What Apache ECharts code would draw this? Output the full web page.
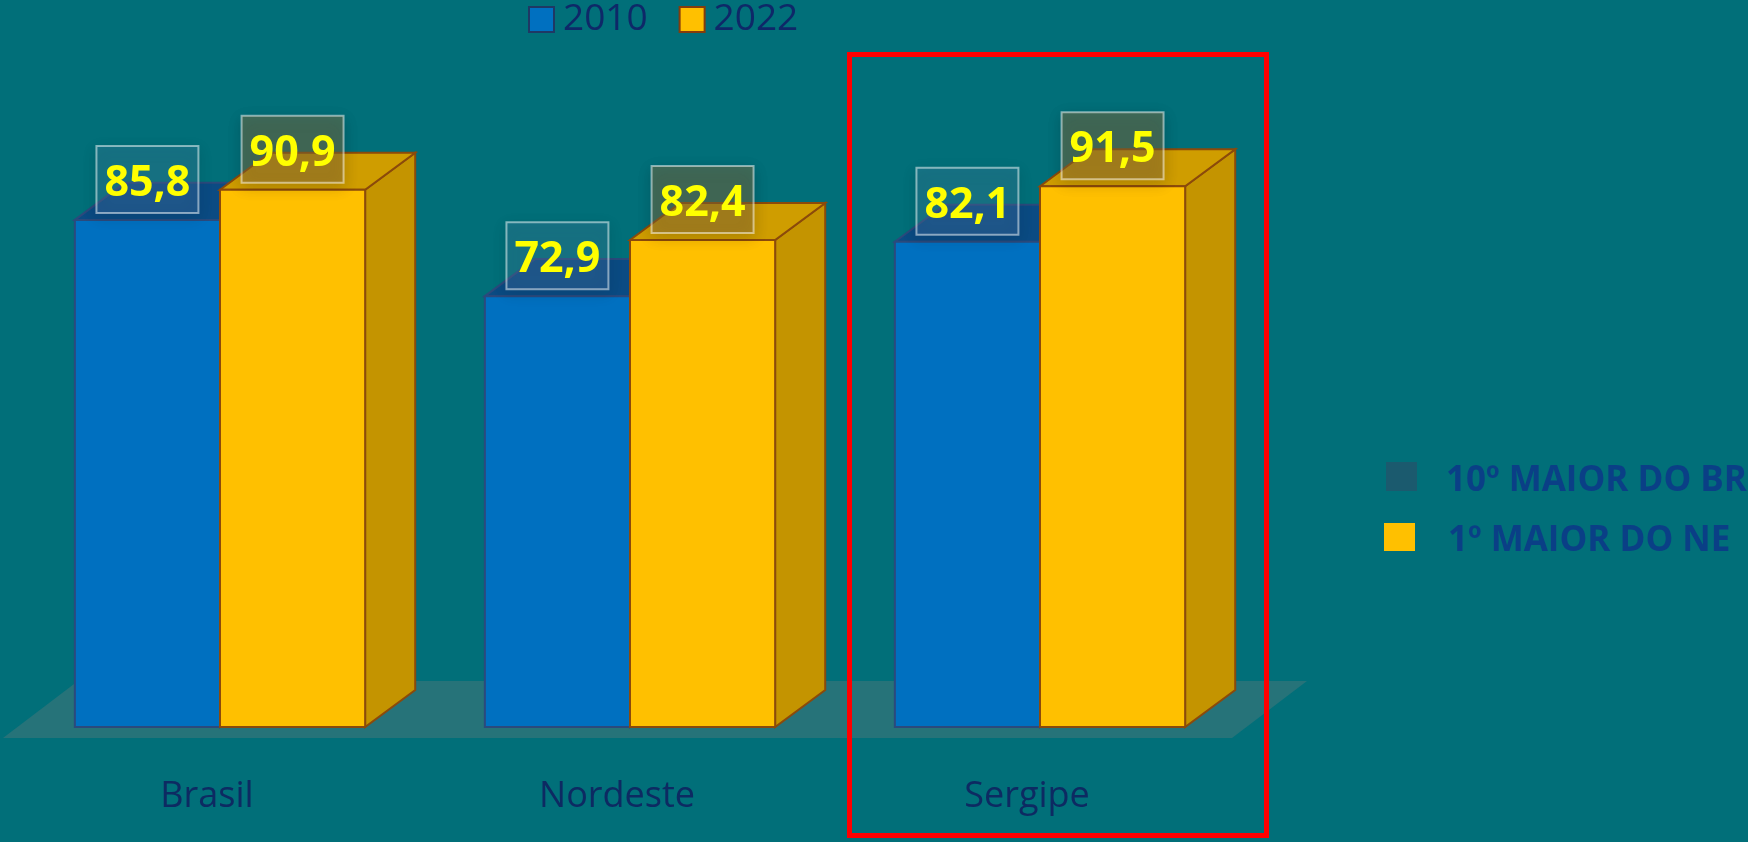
<!DOCTYPE html>
<html>
<head>
<meta charset="utf-8">
<title>2010 x 2022</title>
<script src="https://cdn.jsdelivr.net/npm/echarts@6/dist/echarts.min.js"></script>
<style>
  html, body { margin: 0; padding: 0; background: #016f79; }
  #chart { width: 1748px; height: 842px; }
</style>
</head>
<body>
<div id="chart"></div>
<script>
  // data
  const categories = ['Brasil', 'Nordeste', 'Sergipe']
  const seriesNames = ['2010', '2022']
  const values2010 = [85.8, 72.9, 82.1]
  const values2022 = [90.9, 82.4, 91.5]
  const valueLabels2010 = ['85,8', '72,9', '82,1']
  const valueLabels2022 = ['90,9', '82,4', '91,5']
  const sideNotes = ['10º MAIOR DO BR', '1º MAIOR DO NE']

  const palettes = [
    { front: '#0070c0', top: '#0b4b83', side: '#0a3f70', edge: '#2b4a7c',
      box: 'rgba(110,150,200,0.2)' },
    { front: '#ffc000', top: '#cf9d00', side: '#c49400', edge: '#8b4a0b',
      box: 'rgba(140,110,60,0.45)' },
  ]

  const chart = echarts.init(document.getElementById('chart'))

  // 3d looking bar, drawn through the axis coords
  function makeBar(s, labels) {
    const pal = palettes[s]
    return function (params, api) {
      const i = api.value(0)
      const v = api.value(1)
      const topPt = api.coord([i, v])
      const basePt = api.coord([i, 0])
      const band = api.size([1, 0])[0]
      const w = band * 0.354
      const dx = w * 0.345
      const dy = dx * 0.74
      const x0 = s === 0 ? topPt[0] - w : topPt[0]
      const y0 = topPt[1]
      const y1 = basePt[1]
      const cx = x0 + w / 2
      const bw = 102, bh = 67
      return {
        type: 'group',
        children: [
          {
            type: 'polygon',
            shape: { points: [[x0 + w, y0], [x0 + w + dx, y0 - dy], [x0 + w + dx, y1 - dy], [x0 + w, y1]] },
            style: { fill: pal.side, stroke: pal.edge, lineWidth: 2 },
          },
          {
            type: 'polygon',
            shape: { points: [[x0, y0], [x0 + dx, y0 - dy], [x0 + w + dx, y0 - dy], [x0 + w, y0]] },
            style: { fill: pal.top, stroke: pal.edge, lineWidth: 2 },
          },
          {
            type: 'rect',
            shape: { x: x0, y: y0, width: w, height: y1 - y0 },
            style: { fill: pal.front, stroke: pal.edge, lineWidth: 2 },
          },
          {
            type: 'rect',
            shape: { x: cx - bw / 2, y: y0 - 7 - bh, width: bw, height: bh },
            style: {
              fill: pal.box, stroke: 'rgba(255,255,255,0.5)', lineWidth: 2,
              shadowBlur: 14, shadowColor: 'rgba(0,0,0,0.35)', shadowOffsetY: 4,
            },
          },
          {
            type: 'text',
            x: cx,
            y: y0 - 7 - bh / 2 + 4,
            style: {
              text: labels[i], fill: '#ffff00', align: 'center', verticalAlign: 'middle',
              font: 'bold 43px "Open Sans"',
            },
          },
        ],
      }
    }
  }

  const option = {
    backgroundColor: '#016f79',
    animation: false,
    grid: { left: 15, right: 503, top: 136, bottom: 115 },
    legend: {
      left: 528,
      top: 1,
      padding: 0,
      itemWidth: 25,
      itemHeight: 25,
      itemGap: 31,
      textStyle: { fontSize: 37, color: '#0e2868', fontFamily: 'Open Sans', padding: [0, 0, 0, 4] },
      data: [
        { name: seriesNames[0], icon: 'rect', itemStyle: { color: '#0070c0', borderColor: '#1f3864', borderWidth: 2 } },
        { name: seriesNames[1], icon: 'rect', itemStyle: { color: '#ffc000', borderColor: '#843c0c', borderWidth: 2 } },
      ],
    },
    xAxis: {
      type: 'category',
      data: categories,
      axisLine: { show: false },
      axisTick: { show: false },
      axisLabel: {
        margin: 52,
        fontSize: 36,
        color: '#0d2a62',
        fontFamily: 'Open Sans',
        padding: [0, 26, 0, 0],
      },
    },
    yAxis: { type: 'value', min: 0, max: 100, show: false },
    graphic: [
      // floor
      {
        type: 'polygon', z: 0,
        shape: { points: [[3, 738], [78, 681], [1307, 681], [1232, 738]] },
        style: { fill: '#267379' },
      },
      // highlight around Sergipe
      {
        type: 'rect', z: 100,
        shape: { x: 849.5, y: 54.5, width: 417, height: 781 },
        style: { fill: 'none', stroke: '#ff0000', lineWidth: 5 },
      },
      { type: 'rect', z: 100, shape: { x: 1386, y: 462, width: 31, height: 29 }, style: { fill: '#1b5a6e' } },
      { type: 'rect', z: 100, shape: { x: 1384, y: 523, width: 31, height: 28 }, style: { fill: '#ffc000' } },
      {
        type: 'text', z: 100, x: 1446, y: 481,
        style: { text: sideNotes[0], fill: '#0a3f86', font: 'bold 35px "Open Sans"', verticalAlign: 'middle' },
      },
      {
        type: 'text', z: 100, x: 1448, y: 541,
        style: { text: sideNotes[1], fill: '#0a3f86', font: 'bold 35px "Open Sans"', verticalAlign: 'middle' },
      },
    ],
    series: [
      {
        name: seriesNames[0],
        type: 'custom',
        renderItem: makeBar(0, valueLabels2010),
        itemStyle: { color: '#0070c0' },
        data: values2010.map((v, i) => [i, v]),
        z: 2,
      },
      {
        name: seriesNames[1],
        type: 'custom',
        renderItem: makeBar(1, valueLabels2022),
        itemStyle: { color: '#ffc000' },
        data: values2022.map((v, i) => [i, v]),
        z: 3,
      },
    ],
  }

  chart.setOption(option)
</script>
</body>
</html>
